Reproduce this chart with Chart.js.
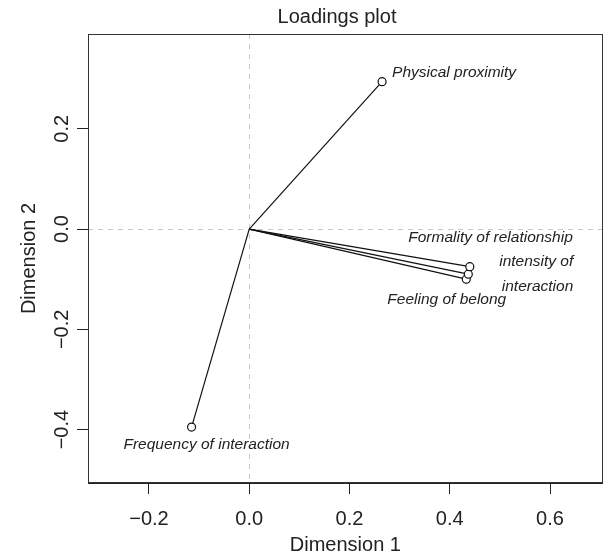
<!DOCTYPE html>
<html>
<head>
<meta charset="utf-8">
<script src="https://cdn.jsdelivr.net/npm/chart.js@4.4.1/dist/chart.umd.min.js"></script>
<style>
  html, body { margin: 0; padding: 0; background: #ffffff; }
  #wrap { width: 608px; height: 559px; position: relative; }
</style>
</head>
<body>
<div id="wrap"><canvas id="c" width="608" height="559"></canvas></div>
<script>
// ---- data ----
const variables = ["Physical proximity", "Frequency of interaction", "Formality of relationship", "intensity of interaction", "Feeling of belong"];
const dim1 = [0.265, -0.115, 0.440, 0.437, 0.433];
const dim2 = [0.294, -0.395, -0.075, -0.090, -0.100];
const xTicks = [-0.2, 0.0, 0.2, 0.4, 0.6];
const yTicks = [-0.4, -0.2, 0.0, 0.2];
const xRange = [-0.3216, 0.7053];
const yRange = [-0.5065, 0.389];
const chartTitle = "Loadings plot";
const xTitle = "Dimension 1";
const yTitle = "Dimension 2";

// ---- styling ----
const FONT = "'Liberation Sans', Arial, Helvetica, sans-serif";
const INK = "#222222";

// label placement (pixel offsets from each point, text lines, alignment)
const labelStyle = [
  { lines: ["Physical proximity"], dx: 10, dy: -9, align: "left" },
  { lines: ["Frequency of interaction"], dx: 15, dy: 18, align: "center" },
  { lines: ["Formality of relationship"], dx: 103, dy: -29, align: "right" },
  { lines: ["intensity of", "interaction"], dx: 105, dy: -12, align: "right", lh: 25 },
  { lines: ["Feeling of belong"], dx: -79, dy: 21, align: "left" }
];

const fmt = v => {
  const s = Number(v).toFixed(1);
  return s.startsWith("-") ? "\u2212" + s.slice(1) : s;
};

const datasets = variables.map((name, i) => ({
  label: name,
  data: [{ x: 0, y: 0 }, { x: dim1[i], y: dim2[i] }],
  showLine: true,
  borderColor: "#111111",
  borderWidth: 1.2,
  pointRadius: [0, 4],
  pointHoverRadius: [0, 4],
  pointStyle: "circle",
  pointBackgroundColor: "#ffffff",
  pointBorderColor: "#111111",
  pointBorderWidth: 1.2,
  fill: false,
  tension: 0
}));

const decor = {
  id: "decor",
  beforeDatasetsDraw(chart) {
    const { ctx, chartArea: a, scales: { x, y } } = chart;
    ctx.save();
    ctx.strokeStyle = "#c8c8c8";
    ctx.lineWidth = 1;
    ctx.setLineDash([5, 5]);
    const x0 = Math.round(x.getPixelForValue(0)) + 0.5;
    const y0 = Math.round(y.getPixelForValue(0)) + 0.5;
    ctx.beginPath();
    ctx.moveTo(x0, a.top); ctx.lineTo(x0, a.bottom);
    ctx.moveTo(a.left, y0); ctx.lineTo(a.right, y0);
    ctx.stroke();
    ctx.restore();
  },
  afterDatasetsDraw(chart) {
    const { ctx, chartArea: a } = chart;
    ctx.save();
    // labels
    ctx.fillStyle = INK;
    ctx.font = "italic 15.5px " + FONT;
    ctx.textBaseline = "middle";
    variables.forEach((name, i) => {
      const meta = chart.getDatasetMeta(i);
      const pt = meta.data[1];
      const st = labelStyle[i];
      ctx.textAlign = st.align;
      st.lines.forEach((ln, k) => {
        ctx.fillText(ln, pt.x + st.dx, pt.y + st.dy + k * (st.lh || 18));
      });
    });
    // frame
    ctx.strokeStyle = "#333333";
    ctx.lineWidth = 1;
    ctx.setLineDash([]);
    ctx.strokeRect(Math.round(a.left) + 0.5, Math.round(a.top) + 0.5,
                   Math.round(a.right - a.left) - 1, Math.round(a.bottom - a.top) - 1);
    // main title
    ctx.font = "20px " + FONT;
    ctx.textAlign = "center";
    ctx.fillText(chartTitle, 337, 17);
    ctx.restore();
  }
};

new Chart(document.getElementById("c"), {
  type: "scatter",
  data: { datasets },
  options: {
    responsive: false,
    animation: false,
    devicePixelRatio: 1,
    layout: { padding: { top: 34, right: 5, left: 0, bottom: 0 } },
    plugins: {
      legend: { display: false },
      title: { display: false },
      tooltip: { enabled: false }
    },
    scales: {
      x: {
        type: "linear",
        position: "bottom",
        min: xRange[0],
        max: xRange[1],
        afterBuildTicks: s => { s.ticks = xTicks.map(v => ({ value: v })); },
        afterFit: s => { s.height = 76; },
        grid: { drawOnChartArea: false, drawTicks: true, tickLength: 11, color: INK, lineWidth: 1 },
        border: { display: true, color: INK, width: 1 },
        ticks: {
          color: INK,
          font: { family: FONT, size: 20 },
          padding: 13,
          maxRotation: 0,
          minRotation: 0,
          callback: v => fmt(v)
        },
        title: {
          display: true,
          text: xTitle,
          color: INK,
          font: { family: FONT, size: 20 },
          padding: { top: 0, bottom: 2 }
        }
      },
      y: {
        type: "linear",
        position: "left",
        min: yRange[0],
        max: yRange[1],
        afterBuildTicks: s => { s.ticks = yTicks.map(v => ({ value: v })); },
        afterFit: s => { s.width = 88; },
        grid: { drawOnChartArea: false, drawTicks: true, tickLength: 11, color: INK, lineWidth: 1 },
        border: { display: true, color: INK, width: 1 },
        ticks: {
          color: INK,
          font: { family: FONT, size: 20 },
          padding: -5,
          minRotation: 90,
          maxRotation: 90,
          crossAlign: "center",
          callback: v => fmt(v)
        },
        title: {
          display: true,
          text: yTitle,
          color: INK,
          font: { family: FONT, size: 20 },
          padding: { top: 17, bottom: 0 }
        }
      }
    }
  },
  plugins: [decor]
});
</script>
</body>
</html>
